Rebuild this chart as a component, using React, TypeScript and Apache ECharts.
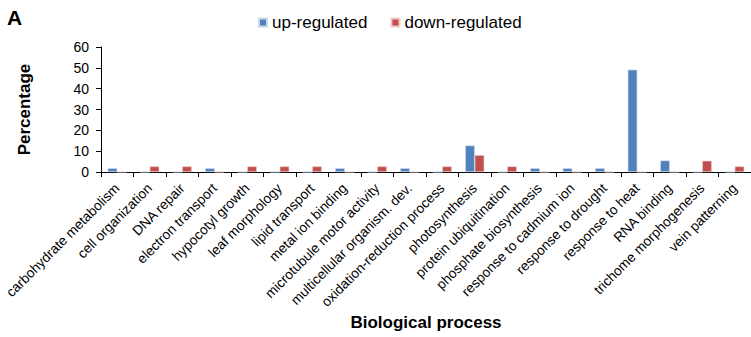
import React, { useEffect, useRef } from "react";
import * as echarts from "echarts";

const categories = [
  "carbohydrate metabolism",
  "cell organization",
  "DNA repair",
  "electron transport",
  "hypocotyl growth",
  "leaf morphology",
  "lipid transport",
  "metal ion binding",
  "microtubule motor activity",
  "multicellular organism. dev.",
  "oxidation-reduction process",
  "photosynthesis",
  "protein ubiquitination",
  "phosphate biosynthesis",
  "response to cadmium ion",
  "response to drought",
  "response to heat",
  "RNA binding",
  "trichome morphogenesis",
  "vein patterning",
];

const upRegulated = [1.8, 0, 0, 1.8, 0, 0, 0, 1.8, 0, 1.8, 0, 12.7, 0, 1.8, 1.8, 1.8, 49.1, 5.5, 0, 0];
const downRegulated = [0, 2.7, 2.7, 0, 2.7, 2.7, 2.7, 0, 2.7, 0, 2.7, 8.1, 2.7, 0, 0, 0, 0, 0, 5.4, 2.7];

const yTicks = { min: 0, max: 60, interval: 10 };

const FONT = "'Liberation Sans', Arial, sans-serif";

export default function App() {
  const ref = useRef<HTMLDivElement>(null);

  useEffect(() => {
    if (!ref.current) return;
    const chart = echarts.init(ref.current, undefined, { renderer: "svg" });
    chart.setOption({
      animation: false,
      backgroundColor: "#ffffff",
      textStyle: { fontFamily: FONT },
      title: {
        text: "A",
        left: 2,
        top: 2,
        textStyle: { fontFamily: FONT, fontSize: 21, fontWeight: "bold", color: "#000" },
      },
      legend: {
        top: 9,
        left: 253,
        itemWidth: 8,
        itemHeight: 8,
        itemGap: 23,
        icon: "rect",
        textStyle: { fontFamily: FONT, fontSize: 17, color: "#000" },
        data: ["up-regulated", "down-regulated"],
      },
      grid: { left: 101, top: 47, width: 653, height: 125, containLabel: false },
      xAxis: {
        type: "category",
        data: categories,
        boundaryGap: true,
        name: "Biological process",
        nameLocation: "middle",
        nameGap: 142,
        nameTextStyle: { fontFamily: FONT, fontSize: 17, fontWeight: "bold", color: "#000" },
        axisLine: { lineStyle: { color: "#000", width: 1 } },
        axisTick: { show: true, alignWithLabel: false, length: 5, lineStyle: { color: "#000" } },
        axisLabel: {
          interval: 0,
          rotate: 45,
          margin: 14,
          fontFamily: FONT,
          fontSize: 13.7,
          color: "#000",
        },
      },
      yAxis: {
        type: "value",
        min: yTicks.min,
        max: yTicks.max,
        interval: yTicks.interval,
        name: "Percentage",
        nameLocation: "middle",
        nameGap: 68,
        nameRotate: 90,
        nameTextStyle: { fontFamily: FONT, fontSize: 17, fontWeight: "bold", color: "#000" },
        splitLine: { show: false },
        axisLine: { show: true, lineStyle: { color: "#000", width: 1 } },
        axisTick: { show: true, length: 5, lineStyle: { color: "#000" } },
        axisLabel: { fontFamily: FONT, fontSize: 14, color: "#000", margin: 12 },
      },
      series: [
        {
          name: "up-regulated",
          type: "bar",
          data: upRegulated,
          barWidth: 9.5,
          barGap: "0%",
          itemStyle: { color: "#4F81BD", borderColor: "#c9d8ec", borderWidth: 0.6 },
        },
        {
          name: "down-regulated",
          type: "bar",
          data: downRegulated,
          barWidth: 9.5,
          barGap: "0%",
          itemStyle: { color: "#C0504D", borderColor: "#efc9c8", borderWidth: 0.6 },
        },
      ],
    });
    return () => chart.dispose();
  }, []);

  return <div ref={ref} style={{ width: 751, height: 337, position: "absolute", left: 0, top: 0 }} />;
}
